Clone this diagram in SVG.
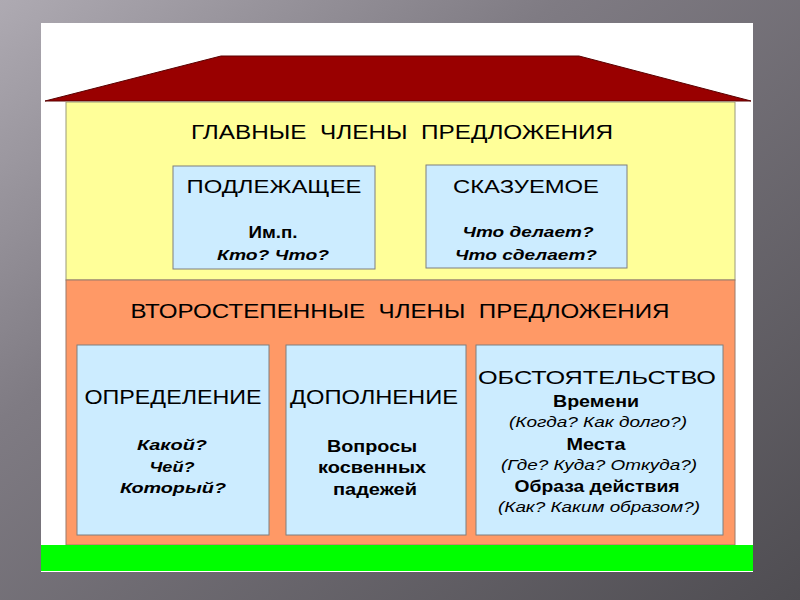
<svg xmlns="http://www.w3.org/2000/svg" width="800" height="600" viewBox="0 0 800 600">
<defs>
<linearGradient id="bg" x1="0" y1="0" x2="1" y2="1">
<stop offset="0" stop-color="#aeaab2"/>
<stop offset="0.35" stop-color="#7f7b83"/>
<stop offset="1" stop-color="#4f4d52"/>
</linearGradient>
<style>
text{font-family:"Liberation Sans",Arial,sans-serif;fill:#000;text-anchor:middle}
.h{font-size:20px}
.t{font-size:19px}
.t2{font-size:20px}
.b{font-size:16px;font-weight:bold}
.bi{font-size:15px;font-weight:bold;font-style:italic}
.i{font-size:15px;font-style:italic}
.box{fill:#ccecff;stroke:#7f7f7f;stroke-width:1}
</style>
</defs>
<rect width="800" height="600" fill="url(#bg)"/>
<rect x="41" y="23" width="712" height="549" fill="#ffffff"/>
<g id="roof"><polygon points="45,101 221,56 579,56 751,101" fill="#990000" stroke="#5a0000" stroke-width="1"/></g>
<g id="main">
<rect x="66" y="102" width="669" height="178" fill="#ffff99" stroke="#9a9a7a" stroke-width="1"/>
<text class="h" x="402" y="139" textLength="422" lengthAdjust="spacingAndGlyphs" xml:space="preserve">ГЛАВНЫЕ  ЧЛЕНЫ  ПРЕДЛОЖЕНИЯ</text>
</g>
<g id="podl">
<rect class="box" x="173" y="166" width="202" height="103"/>
<text class="t" x="274" y="193" textLength="175" lengthAdjust="spacingAndGlyphs">ПОДЛЕЖАЩЕЕ</text>
<text class="b" x="273" y="238" textLength="49" lengthAdjust="spacingAndGlyphs">Им.п.</text>
<text class="bi" x="273" y="260" textLength="112" lengthAdjust="spacingAndGlyphs">Кто? Что?</text>
</g>
<g id="skaz">
<rect class="box" x="426" y="165" width="201" height="103"/>
<text class="t" x="526" y="193" textLength="146" lengthAdjust="spacingAndGlyphs">СКАЗУЕМОЕ</text>
<text class="bi" x="528" y="237" textLength="131" lengthAdjust="spacingAndGlyphs">Что делает?</text>
<text class="bi" x="526" y="260" textLength="142" lengthAdjust="spacingAndGlyphs">Что сделает?</text>
</g>
<g id="second">
<rect x="66" y="280" width="669" height="265" fill="#ff9966" stroke="#9a7a6a" stroke-width="1"/>
<text class="h" x="400" y="318" textLength="539" lengthAdjust="spacingAndGlyphs" xml:space="preserve">ВТОРОСТЕПЕННЫЕ  ЧЛЕНЫ  ПРЕДЛОЖЕНИЯ</text>
</g>
<g id="opr">
<rect class="box" x="77" y="345" width="192" height="190"/>
<text class="t2" x="173" y="404" textLength="177" lengthAdjust="spacingAndGlyphs">ОПРЕДЕЛЕНИЕ</text>
<text class="bi" x="172" y="450" textLength="70" lengthAdjust="spacingAndGlyphs">Какой?</text>
<text class="bi" x="172" y="472" textLength="45" lengthAdjust="spacingAndGlyphs">Чей?</text>
<text class="bi" x="173" y="493" textLength="106" lengthAdjust="spacingAndGlyphs">Который?</text>
</g>
<g id="dop">
<rect class="box" x="286" y="345" width="180" height="190"/>
<text class="t2" x="374" y="404" textLength="168" lengthAdjust="spacingAndGlyphs">ДОПОЛНЕНИЕ</text>
<text class="b" x="372" y="452" textLength="90" lengthAdjust="spacingAndGlyphs">Вопросы</text>
<text class="b" x="372" y="473" textLength="108" lengthAdjust="spacingAndGlyphs">косвенных</text>
<text class="b" x="375" y="495" textLength="84" lengthAdjust="spacingAndGlyphs">падежей</text>
</g>
<g id="obst">
<rect class="box" x="476" y="345" width="247" height="190"/>
<text class="t" x="597" y="384" textLength="238" lengthAdjust="spacingAndGlyphs">ОБСТОЯТЕЛЬСТВО</text>
<text class="b" x="596" y="407" textLength="86" lengthAdjust="spacingAndGlyphs">Времени</text>
<text class="i" x="598" y="427" textLength="178" lengthAdjust="spacingAndGlyphs">(Когда? Как долго?)</text>
<text class="b" x="596" y="450" textLength="59" lengthAdjust="spacingAndGlyphs">Места</text>
<text class="i" x="599" y="470" textLength="196" lengthAdjust="spacingAndGlyphs">(Где? Куда? Откуда?)</text>
<text class="b" x="597" y="492" textLength="165" lengthAdjust="spacingAndGlyphs">Образа действия</text>
<text class="i" x="599" y="512" textLength="202" lengthAdjust="spacingAndGlyphs">(Как? Каким образом?)</text>
</g>
<g id="ground"><rect x="41" y="545" width="712" height="26" fill="#00ff00"/></g>
<g id="connectors"/>
</svg>
